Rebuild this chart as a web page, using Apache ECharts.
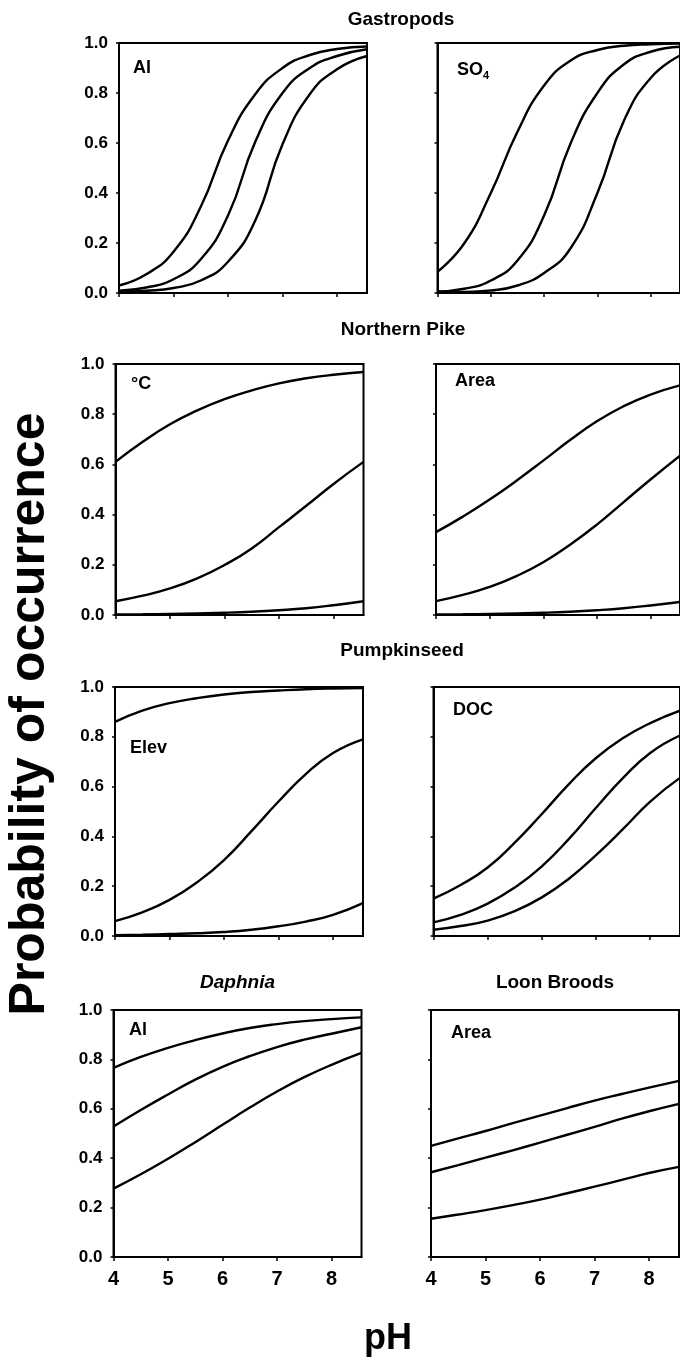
<!DOCTYPE html>
<html>
<head>
<meta charset="utf-8">
<script src="https://cdn.jsdelivr.net/npm/echarts@6/dist/echarts.min.js"></script>
<style>
  html, body { margin: 0; padding: 0; background: #fff; }
  #chart { width: 680px; height: 1359px; }
</style>
</head>
<body>
<div id="chart"></div>
<script>
// pH values at which each fitted probability curve is sampled
const pH = [4, 4.5, 5, 5.5, 6, 6.5, 7, 7.5, 8, 8.55];
const xTicks = [4, 5, 6, 7, 8];

// Probability of occurrence, three curves per panel
const gastropodsAl = [
  [0.030, 0.075, 0.165, 0.345, 0.610, 0.795, 0.900, 0.952, 0.976, 0.986],
  [0.009, 0.022, 0.055, 0.135, 0.310, 0.605, 0.800, 0.900, 0.948, 0.975],
  [0.004, 0.009, 0.020, 0.050, 0.125, 0.290, 0.595, 0.795, 0.895, 0.948]
];
const gastropodsSO4 = [
  [0.085, 0.198, 0.400, 0.645, 0.830, 0.930, 0.972, 0.989, 0.995, 0.998],
  [0.006, 0.017, 0.050, 0.130, 0.310, 0.600, 0.800, 0.915, 0.965, 0.985],
  [0.002, 0.004, 0.010, 0.030, 0.080, 0.180, 0.400, 0.690, 0.860, 0.950]
];
const pikeTemp = [
  [0.610, 0.690, 0.760, 0.815, 0.860, 0.895, 0.923, 0.943, 0.957, 0.968],
  [0.055, 0.077, 0.106, 0.146, 0.199, 0.265, 0.350, 0.435, 0.522, 0.610],
  [0.002, 0.003, 0.0045, 0.0065, 0.009, 0.013, 0.019, 0.027, 0.039, 0.055]
];
const pikeArea = [
  [0.330, 0.392, 0.460, 0.535, 0.615, 0.697, 0.772, 0.832, 0.878, 0.915],
  [0.055, 0.080, 0.112, 0.155, 0.210, 0.280, 0.360, 0.450, 0.540, 0.635],
  [0.002, 0.003, 0.0045, 0.0065, 0.009, 0.013, 0.019, 0.027, 0.038, 0.052]
];
const pumpkinseedElev = [
  [0.860, 0.905, 0.935, 0.955, 0.970, 0.980, 0.986, 0.991, 0.994, 0.996],
  [0.060, 0.095, 0.145, 0.215, 0.305, 0.420, 0.540, 0.650, 0.735, 0.790],
  [0.003, 0.005, 0.008, 0.011, 0.016, 0.025, 0.039, 0.058, 0.085, 0.132]
];
const pumpkinseedDOC = [
  [0.150, 0.205, 0.275, 0.375, 0.490, 0.610, 0.715, 0.795, 0.855, 0.905],
  [0.055, 0.085, 0.130, 0.195, 0.280, 0.390, 0.515, 0.635, 0.735, 0.805],
  [0.025, 0.040, 0.062, 0.100, 0.155, 0.230, 0.325, 0.430, 0.540, 0.635]
];
const daphniaAl = [
  [0.766, 0.810, 0.847, 0.878, 0.905, 0.927, 0.943, 0.955, 0.963, 0.970],
  [0.528, 0.595, 0.658, 0.718, 0.770, 0.813, 0.850, 0.880, 0.904, 0.930],
  [0.277, 0.335, 0.398, 0.465, 0.535, 0.605, 0.670, 0.728, 0.778, 0.826]
];
const loonArea = [
  [0.450, 0.480, 0.510, 0.542, 0.572, 0.603, 0.633, 0.660, 0.686, 0.713],
  [0.343, 0.372, 0.402, 0.432, 0.463, 0.495, 0.527, 0.560, 0.590, 0.620],
  [0.155, 0.172, 0.190, 0.210, 0.232, 0.258, 0.285, 0.312, 0.340, 0.365]
];

// Row titles and panel labels
const rowTitles = ['Gastropods', 'Northern Pike', 'Pumpkinseed'];
const bottomTitles = ['Daphnia', 'Loon Broods'];
const yTitle = 'Probability of occurrence';
const xTitle = 'pH';

const FONT = '"Liberation Sans", Arial, Helvetica, sans-serif';

// Panel layout (pixels): one entry per row, left/right column origins
const PANEL_W = 248;
const rowTop = [43, 364, 687, 1010];
const rowH = [250, 251, 249, 247];
const leftColX = [119, 115.5, 115, 113.5];
const rightColX = [437.5, 436, 433.5, 431];

const panels = [
  { row: 0, col: 0, curves: gastropodsAl,    label: 'Al',   lx: 14, ly: 25 },
  { row: 0, col: 1, curves: gastropodsSO4,   label: 'SO',   sub: '4', lx: 19.5, ly: 27 },
  { row: 1, col: 0, curves: pikeTemp,        label: '°C',   lx: 15.5, ly: 20 },
  { row: 1, col: 1, curves: pikeArea,        label: 'Area', lx: 19, ly: 17 },
  { row: 2, col: 0, curves: pumpkinseedElev, label: 'Elev', lx: 15, ly: 61 },
  { row: 2, col: 1, curves: pumpkinseedDOC,  label: 'DOC',  lx: 19.5, ly: 23 },
  { row: 3, col: 0, curves: daphniaAl,       label: 'Al',   lx: 15.5, ly: 20 },
  { row: 3, col: 1, curves: loonArea,        label: 'Area', lx: 20, ly: 23 }
];

const grids = [], xAxes = [], yAxes = [], series = [], graphics = [];

panels.forEach((p, i) => {
  const left = p.col === 0 ? leftColX[p.row] : rightColX[p.row];
  const top = rowTop[p.row];
  grids.push({
    left: left, top: top, width: PANEL_W, height: rowH[p.row],
    show: true, borderColor: '#000', borderWidth: 2, backgroundColor: 'transparent'
  });
  xAxes.push({
    gridIndex: i, type: 'value', min: 4, max: 8.55, interval: 1,
    axisLine: { show: true, lineStyle: { color: '#000', width: 2 } },
    axisTick: { show: true, inside: false, length: 4, customValues: xTicks,
                lineStyle: { color: '#000', width: 1.5 } },
    axisLabel: { show: p.row === 3, customValues: xTicks, color: '#000',
                 fontFamily: FONT, fontWeight: 'bold', fontSize: 20, margin: 12 },
    splitLine: { show: false }
  });
  yAxes.push({
    gridIndex: i, type: 'value', min: 0, max: 1, interval: 0.2,
    axisLine: { show: true, lineStyle: { color: '#000', width: 2 } },
    axisTick: { show: true, inside: false, length: 3, lineStyle: { color: '#000', width: 1.5 } },
    axisLabel: { show: p.col === 0, color: '#000', fontFamily: FONT, fontWeight: 'bold',
                 fontSize: 17, margin: 11, formatter: v => v.toFixed(1) },
    splitLine: { show: false }
  });
  p.curves.forEach(curve => {
    series.push({
      type: 'line', xAxisIndex: i, yAxisIndex: i,
      data: pH.map((x, j) => [x, curve[j]]),
      smooth: 0.5, symbol: 'none', clip: true, silent: true,
      lineStyle: { color: '#000', width: 2.4 }
    });
  });
  // panel label, placed from the grid's origin
  graphics.push({
    type: 'text', x: left + p.lx, y: top + p.ly, silent: true,
    style: { text: p.label, fill: '#000', font: 'bold 18px ' + FONT,
             align: 'left', verticalAlign: 'middle' }
  });
  if (p.sub) {
    graphics.push({
      type: 'text', x: left + p.lx + 26, y: top + p.ly + 6, silent: true,
      style: { text: p.sub, fill: '#000', font: 'bold 11px ' + FONT,
               align: 'left', verticalAlign: 'middle' }
    });
  }
});

// Row titles centred over the figure, bottom-row titles over each panel
const rowTitleY = [20, 330, 651];
const rowTitleX = [401, 403, 402];
rowTitles.forEach((t, r) => {
  graphics.push({
    type: 'text', x: rowTitleX[r], y: rowTitleY[r], silent: true,
    style: { text: t, fill: '#000', font: 'bold 19px ' + FONT, align: 'center', verticalAlign: 'middle' }
  });
});
graphics.push({
  type: 'text', x: leftColX[3] + PANEL_W / 2, y: 983, silent: true,
  style: { text: bottomTitles[0], fill: '#000', font: 'italic bold 19px ' + FONT, align: 'center', verticalAlign: 'middle' }
});
graphics.push({
  type: 'text', x: rightColX[3] + PANEL_W / 2, y: 983, silent: true,
  style: { text: bottomTitles[1], fill: '#000', font: 'bold 19px ' + FONT, align: 'center', verticalAlign: 'middle' }
});

// Shared axis titles
graphics.push({
  type: 'text', x: 30, y: 714, rotation: Math.PI / 2, silent: true,
  style: { text: yTitle, fill: '#000', font: 'bold 50px ' + FONT, align: 'center', verticalAlign: 'middle' }
});
graphics.push({
  type: 'text', x: 388, y: 1339, silent: true,
  style: { text: xTitle, fill: '#000', font: 'bold 36px ' + FONT, align: 'center', verticalAlign: 'middle' }
});

const chart = echarts.init(document.getElementById('chart'), null, { renderer: 'canvas' });
chart.setOption({
  animation: false,
  backgroundColor: '#fff',
  grid: grids,
  xAxis: xAxes,
  yAxis: yAxes,
  series: series,
  graphic: graphics
});
</script>
</body>
</html>
